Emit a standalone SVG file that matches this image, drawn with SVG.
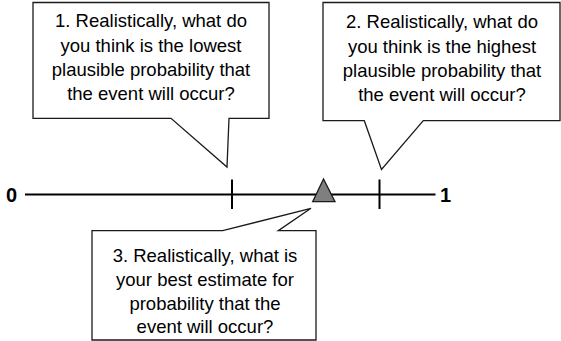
<svg xmlns="http://www.w3.org/2000/svg" width="561" height="341" viewBox="0 0 561 341">
<style>
.callout{fill:#ffffff;stroke:#1a1a1a;stroke-width:1.3;stroke-linejoin:miter}
.q{font-family:"Liberation Sans",Arial,sans-serif;font-size:18.5px;fill:#000;text-anchor:middle}
.num{font-family:"Liberation Sans",Arial,sans-serif;font-size:20px;font-weight:bold;fill:#000}
.axis{stroke:#000;stroke-width:2;fill:none}
</style>
<rect width="561" height="341" fill="#ffffff"/>
<g id="axis">
<line class="axis" x1="25" y1="194.5" x2="435.5" y2="194.5"/>
<line class="axis" x1="232" y1="179.5" x2="232" y2="209"/>
<line class="axis" x1="379.5" y1="179.5" x2="379.5" y2="209"/>
<text class="num" x="6" y="201.5">0</text>
<text class="num" x="440" y="201.5">1</text>
</g>
<g id="estimate-marker">
<polygon points="323.5,179 312.7,201.7 335,201.7" fill="#7f7f7f" stroke="#1a1a1a" stroke-width="1.3"/>
</g>
<g id="callout1">
<path class="callout" d="M33,2.5 H269 V118.3 H229 L227,167 L171,118.3 H33 Z"/>
<text class="q" x="151" y="27">1. Realistically, what do</text>
<text class="q" x="151" y="52">you think is the lowest</text>
<text class="q" x="151" y="76">plausible probability that</text>
<text class="q" x="151" y="100">the event will occur?</text>
</g>
<g id="callout2">
<path class="callout" d="M323,2.5 H560 V120.7 H423.3 L381.5,169.5 L364.3,120.7 H323 Z"/>
<text class="q" x="442" y="28">2. Realistically, what do</text>
<text class="q" x="442" y="53">you think is the highest</text>
<text class="q" x="442" y="77">plausible probability that</text>
<text class="q" x="442" y="101">the event will occur?</text>
</g>
<g id="callout3">
<path class="callout" d="M92,230.7 H222.7 L311,208.3 L278.3,230.7 H316 V340 H92 Z"/>
<text class="q" x="205" y="262">3. Realistically, what is</text>
<text class="q" x="205" y="286">your best estimate for</text>
<text class="q" x="205" y="310">probability that the</text>
<text class="q" x="205" y="333">event will occur?</text>
</g>
<g id="connectors"></g>
</svg>
